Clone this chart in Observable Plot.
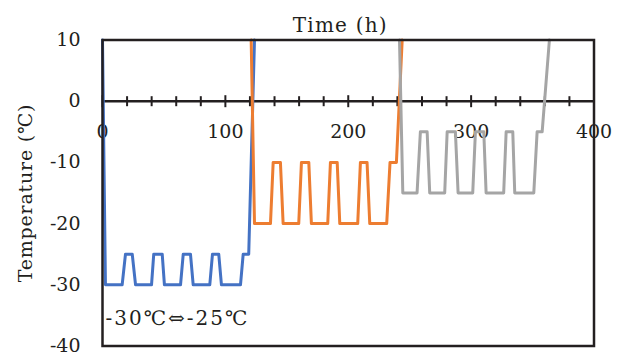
<!DOCTYPE html>
<html><head><meta charset="utf-8">
<script src="https://cdn.jsdelivr.net/npm/d3@7"></script>
<script src="https://cdn.jsdelivr.net/npm/@observablehq/plot@0.6"></script>
<style>body{margin:0;background:#fff}</style>
</head><body><div id="chart"></div>
<script>
// Series 1 (-30 <-> -25)
const timeA = [0, 2.4, 16, 18.7, 24.2, 26.9, 39.9, 41.7, 48.6, 50.4, 63.5, 65.7, 71.6, 73.8, 87.3, 89.5, 94.6, 96.8, 112.3, 114.5, 119, 123.7];
const tempA = [10, -30, -30, -25, -25, -30, -30, -25, -25, -30, -30, -25, -25, -30, -30, -25, -25, -30, -30, -25, -25, 10];
// Series 2 (-20 <-> -10)
const timeB = [121, 123.7, 136.7, 138.9, 144.8, 147, 159.7, 161.9, 167.9, 170, 183.3, 185.5, 191, 193.1, 207.7, 209.9, 215.3, 217.5, 231.3, 234, 239.2, 243.9];
const tempB = [10, -20, -20, -10, -10, -20, -20, -10, -10, -20, -20, -10, -10, -20, -20, -10, -10, -20, -20, -10, -10, 10];
// Series 3 (-15 <-> -5)
const timeC = [241.7, 244.4, 256, 258.7, 264.2, 266.3, 278.5, 280.5, 287.2, 289.4, 301.3, 303.5, 310.3, 312.2, 326.5, 328.5, 333.9, 335.5, 351, 353.7, 357.8, 363.7];
const tempC = [10, -15, -15, -5, -5, -15, -15, -5, -5, -15, -15, -5, -5, -15, -15, -5, -5, -15, -15, -5, -5, 10];

const xTickLabels = [0, 100, 200, 300, 400];
const xMinorTicks = [20, 40, 60, 80, 120, 140, 160, 180, 220, 240, 260, 280, 320, 340, 360, 380];
const yTicks = [10, 0, -10, -20, -30, -40];
const titleText = "Time (h)";
const yLabelText = "Temperature (℃)";
const noteText = "-30℃⇔-25℃";

const seriesColors = ["#4472C4", "#ED7D31", "#A5A5A5"];
const toRows = (ts, vs) => ts.map((t, i) => ({t, v: vs[i]}));
const rowsA = toRows(timeA, tempA), rowsB = toRows(timeB, tempB), rowsC = toRows(timeC, tempC);

const vbar = {draw(ctx, size) { const r = Math.sqrt(size / Math.PI); ctx.moveTo(0, -r); ctx.lineTo(0, r); }};
const ink = "#231f20";
const font = "'DejaVu Serif', 'Noto Serif CJK JP', 'Noto Sans CJK JP', serif";

const chart = Plot.plot({
  width: 622, height: 356,
  marginLeft: 102, marginRight: 28.5, marginTop: 39.5, marginBottom: 10.5,
  x: {domain: [0, 400], axis: null},
  y: {domain: [-40, 10], axis: null},
  style: {fontFamily: font, fontSize: "19px", color: ink, background: "white"},
  marks: [
    Plot.axisY(yTicks, {tickSize: 0, tickPadding: 22, tickFormat: d => String(d), fontSize: 19, label: null}),
    Plot.ruleY([0], {stroke: ink, strokeWidth: 2.5}),
    Plot.dot(xMinorTicks, {x: d => d, y: () => 0, symbol: vbar, r: 5, stroke: ink, strokeWidth: 2, fill: "none"}),
    Plot.dot(xTickLabels, {x: d => d, y: () => 0, symbol: vbar, r: 6, stroke: ink, strokeWidth: 2, fill: "none"}),
    Plot.text(xTickLabels, {x: d => d, y: () => 0, dy: 31, text: d => String(d), fontSize: 19, fill: ink}),
    Plot.line(rowsA, {x: "t", y: "v", stroke: seriesColors[0], strokeWidth: 3}),
    Plot.line(rowsB, {x: "t", y: "v", stroke: seriesColors[1], strokeWidth: 3}),
    Plot.line(rowsC, {x: "t", y: "v", stroke: seriesColors[2], strokeWidth: 3}),
    Plot.frame({stroke: ink, strokeWidth: 2.5}),
    Plot.text([titleText], {frameAnchor: "top", dx: -8, dy: -22, text: d => d, fontSize: 20, fill: ink}),
    Plot.text([yLabelText], {frameAnchor: "left", textAnchor: "middle", dx: -77, rotate: -90, text: d => d, fontSize: 19, fill: ink}),
    Plot.text([noteText], {frameAnchor: "bottom-left", textAnchor: "start", dx: 3, dy: -21, text: d => d, fontSize: 20, fill: ink})
  ]
});
const spacing = new Map([[titleText, "1.2px"], [yLabelText, "0.8px"], [noteText, "2px"]]);
d3.select(chart).selectAll("text").each(function() {
  const s = spacing.get(this.textContent);
  if (s) this.setAttribute("letter-spacing", s);
});
document.getElementById("chart").append(chart);
</script>
</body></html>
